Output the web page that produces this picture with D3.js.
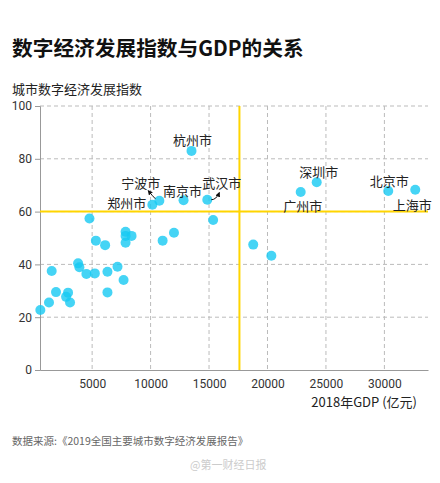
<!DOCTYPE html>
<html><head><meta charset="utf-8">
<script src="https://cdn.jsdelivr.net/npm/d3@7"></script>
<style>body{margin:0;background:#fff}svg{display:block}</style>
</head><body>
<script>
const gdp = [13500,10150,10750,12820,14850,15350,4770,5320,6110,7860,7860,8370,7860,11030,12000,3800,3910,1540,4510,5230,6310,7170,7690,6310,1910,2940,2770,3110,1310,570,18780,20330,24210,22840,30330,32640];
const index = [83,62.6,64.1,64.3,64.5,56.8,57.4,49,47.3,52.4,50.8,50.8,48.2,49,52,40.4,38.9,37.5,36.4,36.6,37.2,39.1,34.1,29.4,29.5,29.3,27.7,25.6,25.6,22.7,47.5,43.3,71.1,67.4,67.8,68.3];
const cityNames = ["杭州市","郑州市","宁波市","南京市","武汉市","","","","","","","","","","","","","","","","","","","","","","","","","","","","深圳市","广州市","北京市","上海市"];
const xTicks = [5000,10000,15000,20000,25000,30000];
const yTicks = [0,20,40,60,80,100];
const gdpMean = 17600;
const indexRef = 60;

const W=440,H=483;
const svg=d3.select("body").append("svg").attr("width",W).attr("height",H);
const cjk="'Noto Sans CJK SC','Noto Sans',sans-serif";
const num="Roboto,'Noto Sans',sans-serif";
const x=d3.scaleLinear().domain([540,33730]).range([40,428]);
const y=d3.scaleLinear().domain([0,100]).range([370,106]);

svg.append("text").attr("x",12).attr("y",56).attr("font-family",cjk).attr("font-weight","bold")
  .attr("font-size",20.7).attr("fill","#111").text("数字经济发展指数与GDP的关系");
svg.append("text").attr("x",12).attr("y",94).attr("font-family",cjk).attr("font-size",13)
  .attr("fill","#222").text("城市数字经济发展指数");

// grid
const g=svg.append("g");
g.selectAll(".hg").data(yTicks.filter(d=>d>0)).join("line")
  .attr("x1",40).attr("x2",428).attr("y1",d=>y(d)).attr("y2",d=>y(d))
  .attr("stroke","#bbb").attr("stroke-dasharray","4,3");
g.selectAll(".vg").data(xTicks).join("line")
  .attr("x1",d=>x(d)).attr("x2",d=>x(d)).attr("y1",106).attr("y2",370)
  .attr("stroke","#bbb").attr("stroke-dasharray","4,3");

// axes
const yAxis=d3.axisLeft(y).tickValues(yTicks).tickSize(5).tickPadding(3);
const ya=svg.append("g").attr("transform","translate(40,0)").call(yAxis);
ya.select(".domain").attr("stroke","#999");
ya.selectAll(".tick line").attr("stroke","#999");
ya.selectAll("text").attr("font-family",num).attr("font-size",12).attr("fill","#333");
const xAxis=d3.axisBottom(x).tickValues(xTicks).tickSize(0).tickPadding(9).tickFormat(d3.format("d"));
const xa=svg.append("g").attr("transform","translate(0,370)").call(xAxis);
xa.select(".domain").attr("stroke","#999");
xa.selectAll("text").attr("font-family",num).attr("font-size",12).attr("fill","#333");
svg.append("text").attr("x",417).attr("y",407).attr("text-anchor","end").attr("font-family",cjk)
  .attr("font-size",13).attr("fill","#222").text("2018年GDP (亿元)");

// reference lines
svg.append("line").attr("x1",40).attr("x2",428).attr("y1",y(indexRef)).attr("y2",y(indexRef))
  .attr("stroke","#ffd500").attr("stroke-width",2);
svg.append("line").attr("x1",x(gdpMean)).attr("x2",x(gdpMean)).attr("y1",106).attr("y2",370)
  .attr("stroke","#ffd500").attr("stroke-width",2);

// points
const pts=gdp.map((v,i)=>({g:v,v:index[i],n:cityNames[i]}));
svg.append("g").selectAll("circle").data(pts).join("circle")
  .attr("cx",d=>x(d.g)).attr("cy",d=>y(d.v)).attr("r",5)
  .attr("fill","#16c9f2").attr("fill-opacity",0.8);

// labels
const off={"杭州市":[1,-6,"middle"],"郑州市":[-6,3.5,"end"],"宁波市":[1,-12.5,"end"],"南京市":[-1,-4,"middle"],
 "武汉市":[-5,-11.5,"start"],"深圳市":[2,-5.5,"middle"],"广州市":[2,19,"middle"],"北京市":[1,-5,"middle"],"上海市":[-3,20,"middle"]};
svg.append("g").selectAll("text").data(pts.filter(d=>d.n)).join("text")
  .attr("x",d=>x(d.g)+off[d.n][0]).attr("y",d=>y(d.v)+off[d.n][1]).attr("text-anchor",d=>off[d.n][2])
  .attr("font-family",cjk).attr("font-size",13).attr("fill","#222").text(d=>d.n);

// arrows
const defs=svg.append("defs");
defs.append("marker").attr("id","ah").attr("viewBox","0 0 10 10").attr("refX",8).attr("refY",5)
  .attr("markerWidth",5).attr("markerHeight",5).attr("orient","auto")
  .append("path").attr("d","M0,0L10,5L0,10z").attr("fill","#111");
const nb=pts.find(d=>d.n==="宁波市"), wh=pts.find(d=>d.n==="武汉市");
svg.append("path").attr("d",`M${x(nb.g)-4},${y(nb.v)-2} Q${x(nb.g)-7},${y(nb.v)-5} ${x(nb.g)-11},${y(nb.v)-10}`)
  .attr("fill","none").attr("stroke","#111").attr("stroke-width",1).attr("marker-end","url(#ah)");
svg.append("path").attr("d",`M${x(wh.g)+4},${y(wh.v)} Q${x(wh.g)+9},${y(wh.v)} ${x(wh.g)+12},${y(wh.v)-7}`)
  .attr("fill","none").attr("stroke","#111").attr("stroke-width",1).attr("marker-end","url(#ah)");

svg.append("text").attr("x",12).attr("y",445).attr("font-family",cjk).attr("font-size",10.5)
  .attr("fill","#666").text("数据来源:《2019全国主要城市数字经济发展报告》");
svg.append("text").attr("x",190).attr("y",469).attr("font-family",cjk).attr("font-size",11)
  .attr("fill","#ccc").text("@第一财经日报");
</script>
</body></html>
